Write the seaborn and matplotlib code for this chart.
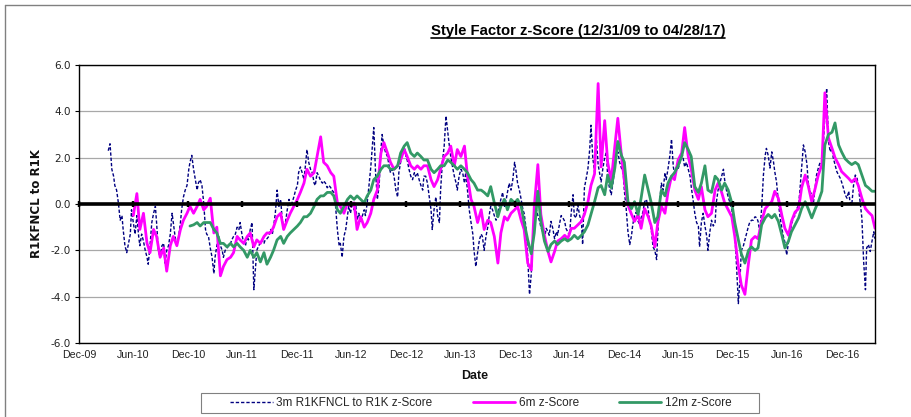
import matplotlib
matplotlib.use("Agg")
import matplotlib.pyplot as plt
import matplotlib.dates as mdates
from matplotlib import font_manager
from matplotlib.lines import Line2D
from matplotlib.patches import Rectangle
import numpy as np
import pandas as pd
import seaborn as sns

# --- data --------------------------------------------------------------------
title = "Style Factor z-Score (12/31/09 to 04/28/17)"
label_3m = "3m R1KFNCL to R1K z-Score"
label_6m = "6m z-Score"
label_12m = "12m z-Score"

# 3m series, one value every 4 trading days from 2010-04-08
start_3m = "2010-04-08"
z3m = [
    2.3, 2.6, 1.5, 1.2, 0.8, 0.6, 0.05, -0.7, -0.5, -1.1, -1.8, -2.1, -1.7, -1.3, -0.25,
    -0.8, -1.3, -0.5, -1.4, -1.8, -1.3, -1.6, -2.0, -2.3, -2.6, -1.8, -0.8, -0.4, -0.1, -0.8,
    -2.0, -2.3, -1.8, -1.7, -2.6, -2.0, -1.8, -1.3, -0.4, -0.8, -1.4, -1.8, -1.4, -0.8, -0.25,
    0.3, 0.6, 0.8, 1.5, 1.8, 2.1, 1.5, 1.05, 0.6, 0.9, 1.05, 0.8, 0.05,
    -1.1, -1.3, -1.4, -1.9, -2.3, -3.0, -2.3, -1.8, -1.4, -1.8, -2.0, -2.3, -2.0, -1.9, -1.8,
    -1.7, -1.55, -1.4, -1.3, -1.0, -1.1, -0.8, -1.3, -1.7, -1.8, -1.4, -1.55, -1.1, -0.8, -3.7,
    -2.7, -2.0, -1.8, -1.7, -1.55, -1.7, -1.55, -1.5, -1.4, -1.1, -1.3, -1.0, -0.4, 0.6, -0.1,
    0.2, -0.5, -1.1, -0.8, -0.25, 0.2, -0.1, 0.05, 0.3, 0.6, 0.8, 1.35, 1.6, 1.35, 1.05,
    1.8, 2.35, 1.8, 1.5, 1.35, 0.9,
    0.8, 1.35, 1.2, 1.0, 0.9, 1.0, 0.9, 0.7, 0.8, 0.7, 0.6, 0.5, -0.1, -1.1, -1.8,
    -1.7, -2.3, -1.4, -1.1, -0.5, -0.1, -0.4, 0.05, -0.25, -0.1, -0.7, -0.4, -0.8, -0.5, -0.25,
    -0.5, 0.05, 0.8, 1.6, 2.65, 3.3, 1.35, 0.2, 0.8, 2.35, 3.0, 2.5, 2.2, 2.05, 1.6,
    1.35, 1.5, 1.2, 0.6, 0.3, 1.35, 1.8, 2.35, 2.5, 2.05, 1.9, 1.5, 1.2, 1.05, 1.35,
    1.2, 1.35, 1.05, 0.8, 0.6, 1.2,
    1.2, 0.9, 0.3, -0.25, -1.1, -0.25, 0.3, -0.5, -0.8, 0.6, 1.8, 2.5, 3.8, 3.1, 2.65,
    2.05, 1.6, 1.2, 0.9, 0.6, 1.2, 1.5, 1.35, 0.9, 1.35, 0.6, -0.25, -0.8, -1.3, -2.0,
    -2.7, -2.1, -1.55, -1.3, -1.4, -2.0, -1.4, -1.0, -0.4, -0.1, -0.25, -0.5, -0.7, -0.4, -0.1,
    0.2, 0.5, -0.1, 0.2, 0.5, 0.9, 0.6, 1.05, 1.8, 1.5, 0.9, 0.6, 0.2, -0.25, -0.4,
    -1.0, -2.3, -3.9, -3.0, -1.8, -0.5,
    -0.2, -0.5, -0.75, -1.0, -1.2, -1.5, -1.05, -1.2, -1.35, -0.75, -1.05, -1.5, -1.2, -1.35, -0.9,
    -0.5, -0.6, -0.75, -1.05, -1.2, -1.35, -0.35, 0.4, -0.5, -0.6, -0.05, -0.5, -0.75, -1.75, 0.7,
    1.1, 1.55, 2.4, 3.4, 2.0, 1.4, 2.85, 1.7, 1.4, 0.95, 1.55, 2.0, 2.25, 1.1, 0.7,
    0.4, 0.95, 1.55, 2.0, 2.25, 1.8, 1.55, 1.4, 0.55, -0.2, -1.2, -1.75, -1.35, -0.9, -0.5,
    -0.35, -0.75, -0.9, -0.6, -0.35, 0.1,
    0.2, -0.25, -0.7, -1.1, -1.85, -2.0, -2.4, -1.25, 0.05, 0.9, 0.6, 1.35, 1.05, 1.5, 2.05,
    2.8, 1.6, 1.35, 1.6, 1.5, 1.8, 2.2, 2.05, 1.6, 1.8, 1.5, 1.2, 0.75, 0.2, -0.4,
    -0.8, -0.95, -1.85, -0.8, -0.4, -0.95, -1.4, -2.0, -1.25, -0.7, -0.95, -0.8, 0.05, 0.6, 0.9,
    1.2, 1.5, 1.05, 0.6, 0.3, 0.05, -0.25, -0.55, -1.25, -2.7, -4.3, -3.1, -2.0, -1.85, -1.55,
    -1.25, -0.95, -0.8, -0.7, -0.7, -0.55,
    -0.6, -0.75, -1.2, -0.2, 1.25, 2.1, 2.4, 2.1, 1.55, 2.25, 1.8, 1.4, 0.95, 0.1, -0.6,
    -1.05, -1.35, -1.65, -2.2, -1.65, -1.2, -0.9, -0.6, -0.5, -0.2, -0.05, 0.55, 1.55, 2.55, 2.25,
    1.7, 0.95, 0.55, 0.4, 0.1, 0.8, 1.25, 1.55, 1.8, 1.7, 2.85, 3.85, 5.0, 2.7, 2.25,
    2.4, 2.0, 1.7, 1.4, 1.25, 1.1, 0.95, 0.7, 0.4, 0.25, 0.55, 0.1, -0.05, 0.8, 1.25,
    1.1, 0.8, 0.1, -0.6, -2.5, -3.7, -1.9, -1.75, -2.05, -1.6, -1.2, -1.5,
]

# 6m series, one value every 8 trading days from 2010-07-01
start_6m = "2010-07-01"
z6m = [
    -0.5, 0.45, -1.1, -0.4, -1.7, -2.1, -1.1, -1.4, -2.3, -1.9, -2.9, -1.8, -1.4, -1.8, -1.1,
    -0.7, -0.4, -0.1, -0.4, -0.1, 0.2, -0.25,
    -0.1, 0.25, -1.25, -1.0, -3.1, -2.7, -2.4, -2.3, -2.1, -1.4, -1.55, -1.7, -1.4, -1.25, -1.85,
    -1.55, -1.7, -1.4, -1.25, -1.25, -1.0, -0.55, -0.4, -1.1, -0.7, -0.4, -0.1, 0.2, 0.5, 0.9,
    1.5, 1.2, 1.35,
    2.05, 2.9, 1.8, 1.65, 1.35, 1.2, 0.05, -0.1, -0.4, 0.05, -0.1, 0.05, -1.1, -0.55, -1.0,
    -0.8, -0.4, 0.2, 0.6, 2.2, 2.65, 2.2, 1.8, 1.5, 1.65, 1.9, 2.35, 2.05, 1.65, 1.5,
    1.65, 1.5, 1.65,
    1.65, 1.05, 0.75, 1.05, 1.5, 2.05, 2.2, 2.5, 1.65, 2.35, 2.05, 2.5, 1.2, 0.2, -0.1,
    -0.8, -0.25, -1.1, -0.7, -0.8, -1.4, -2.55, -1.25, -0.55, -0.7, -0.4, -0.25, -0.1, -0.7, -1.1,
    -2.55, -2.85, -0.1,
    1.7, -0.45, -1.35, -2.05, -2.5, -2.05, -1.6, -1.5, -1.35, -1.5, -1.05, -1.05, -0.9, -0.75, -0.45,
    0.1, 0.8, 1.3, 5.2, 1.6, 3.6, 1.8, 1.0, 2.5, 3.7, 2.1, 1.0, -0.05, -0.45, -0.75,
    -0.45, -1.05, -0.2,
    -0.55, -0.95, -1.85, -0.8, -0.1, -0.4, 0.5, 1.2, 1.05, 1.9, 2.2, 3.3, 2.05, 1.5, 0.6,
    0.2, 0.75, -0.25, -0.55, -0.4, 0.6, 0.9, 0.5, 0.05, -0.25, -0.55, -1.4, -2.7, -3.5, -3.9,
    -2.55, -1.55, -1.4,
    -1.5, -0.75, -0.2, -0.05, 0.1, 0.55, 0.25, -0.5, -1.05, -1.35, -0.75, -0.35, -0.2, 0.7, 1.25,
    0.8, 0.1, 0.7, 1.25, 1.7, 4.8, 2.85, 2.4, 2.0, 1.7, 1.4, 1.25, 1.1, 0.95, 1.1,
    0.8, 0.25, -0.2, -0.35, -0.5, -1.05,
]

# 12m series, one value every 8 trading days from 2011-01-07
start_12m = "2011-01-07"
z12m = [
    -0.95, -0.9, -0.8, -0.95, -0.8,
    -0.8, -0.8, -1.1, -1.25, -1.7, -1.7, -1.85, -1.7, -1.85, -1.7, -1.85, -2.0, -2.3, -2.0, -2.3,
    -2.1, -2.5, -2.1, -2.6, -2.3, -2.0, -1.55, -1.4, -1.7, -1.4, -1.25, -1.1, -0.95, -0.8, -0.55,
    -0.55, -0.4, -0.1,
    0.2, 0.35, 0.35, 0.5, 0.5, 0.35, -0.25, -0.4, -0.1, 0.2, 0.35, 0.2, 0.35, 0.2, 0.05,
    0.35, 0.6, 1.05, 1.2, 1.5, 1.65, 1.65, 1.5, 1.5, 1.65, 2.2, 2.5, 2.65, 2.2, 2.05,
    2.2, 2.05, 1.9,
    1.9, 1.5, 1.35, 1.5, 1.65, 1.65, 1.9, 1.8, 1.65, 1.5, 1.65, 1.5, 1.35, 1.05, 0.9,
    0.6, 0.6, 0.5, 0.35, 0.75, 0.05, -0.55, -0.1, 0.2, -0.25, 0.2, 0.05, 0.2, -0.1, -0.8,
    -1.55, -2.15, -1.25,
    0.55, -0.75, -1.6, -2.05, -1.75, -1.6, -1.75, -1.6, -1.5, -1.6, -1.5, -1.35, -1.5, -1.35, -1.2,
    -0.9, -0.45, 0.1, 0.7, 0.8, 0.4, 1.25, 0.7, 1.55, 2.7, 2.1, 1.8, 0.1, -0.2, 0.1,
    -0.45, 0.25, 1.25,
    0.6, 0.05, -0.8, -0.55, 0.6, 0.35, 0.9, 1.2, 1.35, 1.65, 2.05, 2.65, 2.35, 2.05, 0.75,
    0.5, 0.9, 1.65, 0.6, 0.5, 1.2, 1.05, 0.6, 0.9, 0.6, 0.05, -0.8, -1.55, -2.15, -2.55,
    -2.0, -1.85, -2.0,
    -1.9, -0.9, -0.6, -0.45, -0.6, -0.45, -0.75, -1.35, -1.9, -1.6, -1.2, -0.9, -0.6, -0.2, 0.1,
    -0.2, -0.6, -0.2, 0.1, 0.55, 2.55, 3.0, 3.1, 3.5, 2.55, 2.25, 1.95, 1.8, 1.7, 1.8,
    1.7, 1.25, 0.8, 0.7, 0.55, 0.55,
]

axis_start = "2009-12-31"
axis_end = "2017-04-21"
y_ticks = [-6, -4, -2, 0, 2, 4, 6]

# --- styling ---------------------------------------------------------------
sns.set_theme(style="white")
plt.rcParams["font.family"] = ["DejaVu Sans"]
names = {f.name for f in font_manager.fontManager.ttflist}
NARROW = "Liberation Sans Narrow" if "Liberation Sans Narrow" in names else "Liberation Sans"
narrow_scale = 1.0 if NARROW == "Liberation Sans Narrow" else 0.85

d3 = pd.bdate_range(start_3m, periods=len(z3m), freq="4B")
d6 = pd.bdate_range(start_6m, periods=len(z6m), freq="8B")
d12 = pd.bdate_range(start_12m, periods=len(z12m), freq="8B")

W, H = 911, 417
fig = plt.figure(figsize=(W / 100, H / 100), dpi=100)
fig.patch.set_facecolor("white")
ax = fig.add_axes([79 / W, 1 - 343 / H, 796 / W, 278 / H])

sns.lineplot(x=d3, y=z3m, ax=ax, color="#000080", linewidth=1.0,
             linestyle=(0, (2.4, 1.4)), label=label_3m, estimator=None)
sns.lineplot(x=d6, y=z6m, ax=ax, color="#FF00FF", linewidth=2.0,
             label=label_6m, estimator=None)
sns.lineplot(x=d12, y=z12m, ax=ax, color="#339966", linewidth=2.0,
             label=label_12m, estimator=None)

ax.set_ylim(-6, 6)
ax.set_xlim(pd.Timestamp(axis_start), pd.Timestamp(axis_end))
ax.set_yticks(y_ticks)
ax.yaxis.set_major_formatter(matplotlib.ticker.FormatStrFormatter("%.1f"))
tick_dates = pd.date_range(axis_start, periods=15, freq="6ME")
ax.set_xticks(tick_dates)
ax.xaxis.set_major_formatter(mdates.DateFormatter("%b-%y"))
ax.set_xlabel("")
ax.set_ylabel("")

ax.yaxis.grid(True, color="#a8a8a8", linewidth=0.9)
ax.xaxis.grid(False)
for s in ax.spines.values():
    s.set_visible(True)
    s.set_color("black")
    s.set_linewidth(1.0)

ax.tick_params(axis="y", direction="out", length=3, width=0.8, color="black",
               labelsize=7.5, labelcolor="#222222", pad=3, left=True)
ax.tick_params(axis="x", length=0, pad=5, labelsize=9 * narrow_scale, labelcolor="#222222")
for lab in ax.get_xticklabels():
    lab.set_family(NARROW)

# zero line acts as the category axis with small crossing ticks
ax.axhline(0, color="black", linewidth=2.6, zorder=4)
sec = ax.secondary_xaxis(0.5)
sec.set_xticks(mdates.date2num(tick_dates))
sec.tick_params(axis="x", which="both", direction="inout", length=4, width=1.6,
                color="black", top=True, bottom=True, labeltop=False, labelbottom=False)
for s in sec.spines.values():
    s.set_visible(False)
sec.set_zorder(6)

handles, labels = ax.get_legend_handles_labels()
ax.get_legend().remove()
leg = fig.legend(handles, labels, loc="center", bbox_to_anchor=(481 / W, 1 - 403 / H),
                 ncol=3, frameon=False,
                 prop={"family": NARROW, "size": 10 * narrow_scale},
                 handlelength=3.6, columnspacing=3.4, handletextpad=0.3)
fig.add_artist(Rectangle((201 / W, 1 - 413 / H), 558 / W, 20 / H, transform=fig.transFigure,
                         fill=False, edgecolor="#808080", linewidth=0.8))

fig.text(36 / W, 1 - 204 / H, "R1KFNCL to R1K", rotation=90, ha="center", va="center",
         fontsize=8.5, fontweight="bold", color="#111111")
fig.text(475 / W, 1 - 376 / H, "Date", ha="center", va="center", fontsize=10.5 * narrow_scale,
         fontweight="bold", family=NARROW, color="#111111")
t = fig.text(578 / W, 1 - 31 / H, title, ha="center", va="center", fontsize=12.6 * narrow_scale,
             fontweight="bold", family=NARROW, color="black")

# chart area border (top and left edge are visible in the picture)
fig.add_artist(Line2D([5 / W, 5 / W], [0, 1 - 5 / H], transform=fig.transFigure,
                      color="#808080", linewidth=1.0))
fig.add_artist(Line2D([5 / W, 1], [1 - 5 / H, 1 - 5 / H], transform=fig.transFigure,
                      color="#808080", linewidth=1.0))

# underline the title
fig.canvas.draw()
bb = t.get_window_extent().transformed(fig.transFigure.inverted())
fig.add_artist(Line2D([bb.x0, bb.x1], [bb.y0, bb.y0], transform=fig.transFigure,
                      color="black", linewidth=1.2))

fig.savefig("out.png", dpi=100, facecolor="white")
